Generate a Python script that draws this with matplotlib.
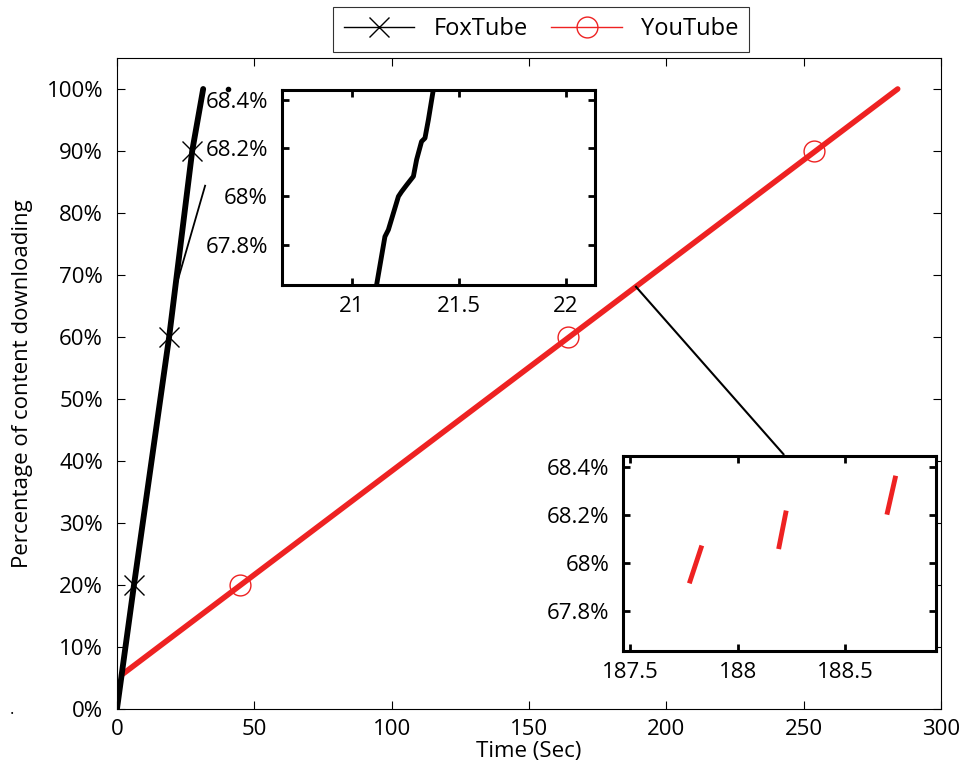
import numpy as np
import matplotlib
matplotlib.use('Agg')
import matplotlib.pyplot as plt
from matplotlib.lines import Line2D
from matplotlib.ticker import FuncFormatter

plt.rcParams['font.family'] = ['Open Sans', 'DejaVu Sans']
plt.rcParams['font.size'] = 16

# FoxTube: time (s) vs. percentage downloaded
fox_t = [0, 6.2, 19.0, 27.4, 31.4]
fox_p = [0, 20, 60, 90, 100]
fox_mark_t = [6.2, 19.0, 27.4]
fox_mark_p = [20, 60, 90]
fox_stray_t = [40.5]
fox_stray_p = [100]

# YouTube
yt_t = [1.7, 284.3]
yt_p = [5.5, 100]
yt_mark_t = [44.9, 164.2, 254.0]
yt_mark_p = [20, 60, 90]

# zoomed FoxTube samples (inset 1)
fox_zoom_t = [21.115, 21.154, 21.170, 21.217, 21.232, 21.256, 21.287, 21.302, 21.325, 21.341, 21.357, 21.380]
fox_zoom_p = [67.634, 67.834, 67.862, 68.000, 68.020, 68.048, 68.083, 68.152, 68.227, 68.241, 68.317, 68.441]

# zoomed YouTube samples (inset 2), three separate bursts
yt_zoom_t = [[187.779, 187.830], [188.193, 188.224], [188.697, 188.733]]
yt_zoom_p = [[67.925, 68.063], [68.068, 68.208], [68.211, 68.353]]

pct = FuncFormatter(lambda v, pos: '%g%%' % round(v, 2))

fig = plt.figure(figsize=(9.61, 7.73), dpi=100)
ax = fig.add_axes([0.1217, 0.0828, 0.8573, 0.8422])

ax.plot(yt_t, yt_p, color='#ee2222', lw=4, solid_capstyle='round', zorder=2)
ax.plot(yt_mark_t, yt_mark_p, ls='none', marker='o', mfc='none', mec='#ee2222', ms=15, mew=1, zorder=2)
ax.plot(fox_t, fox_p, color='black', lw=4.2, solid_capstyle='round', zorder=3)
ax.plot(fox_mark_t, fox_mark_p, ls='none', marker='x', color='black', ms=15, mew=1, zorder=3)
ax.plot(fox_stray_t, fox_stray_p, ls='none', marker='o', color='black', ms=3)

# connector lines to the zoom boxes
ax.plot([20.1, 32.1], [66.0, 84.4], color='black', lw=1.3)
ax.plot([189.0, 242.7], [68.1, 41.1], color='black', lw=1.5)

ax.set_xlim(0, 300)
ax.set_ylim(0, 105)
ax.set_xticks(np.arange(0, 301, 50))
ax.set_yticks(np.arange(0, 101, 10))
ax.yaxis.set_major_formatter(pct)
ax.tick_params(direction='in', length=6, top=True, right=True, width=0.8)
ax.tick_params(axis='y', pad=10)
ax.tick_params(axis='x', pad=7)
ax.set_xlabel('Time (Sec)', labelpad=1)
ax.set_ylabel('Percentage of content downloading', labelpad=10)
for s in ax.spines.values():
    s.set_linewidth(0.8)

# inset 1: FoxTube
ins1 = fig.add_axes([0.2934, 0.6313, 0.3257, 0.2523])
ins1.plot(fox_zoom_t, fox_zoom_p, color='black', lw=3.5)
ins1.set_xlim(20.673, 22.135)
ins1.set_ylim(67.634, 68.44)
ins1.set_xticks([21, 21.5, 22])
ins1.set_yticks([67.8, 68.0, 68.2, 68.4])
ins1.yaxis.set_major_formatter(pct)
ins1.xaxis.set_major_formatter(FuncFormatter(lambda v, pos: '%g' % v))

# inset 2: YouTube
ins2 = fig.add_axes([0.6483, 0.1578, 0.3257, 0.2523])
for tt, pp in zip(yt_zoom_t, yt_zoom_p):
    ins2.plot(tt, pp, color='#ee2222', lw=3.5)
ins2.set_xlim(187.467, 188.923)
ins2.set_ylim(67.634, 68.445)
ins2.set_xticks([187.5, 188, 188.5])
ins2.set_yticks([67.8, 68.0, 68.2, 68.4])
ins2.yaxis.set_major_formatter(pct)
ins2.xaxis.set_major_formatter(FuncFormatter(lambda v, pos: '%g' % v))

for a in (ins1, ins2):
    a.tick_params(direction='in', length=5, width=2, top=True, right=True)
    a.tick_params(axis='y', pad=10)
    a.tick_params(axis='x', pad=8)
    for s in a.spines.values():
        s.set_linewidth(2.2)

handles = [
    Line2D([], [], color='black', lw=1, marker='x', ms=15, mew=1),
    Line2D([], [], color='#ee2222', lw=1, marker='o', mfc='none', ms=15, mew=1),
]
leg = fig.legend(handles, ['FoxTube', 'YouTube'], loc='center', bbox_to_anchor=(0.563, 0.962),
                 ncol=2, frameon=True, fancybox=False, edgecolor='black', fontsize=17,
                 handlelength=3.0, columnspacing=1.0, borderpad=0.45)
leg.get_frame().set_linewidth(0.8)

fig.text(0.01, 0.076, '.', fontsize=12)

fig.savefig('out.png', dpi=100)
